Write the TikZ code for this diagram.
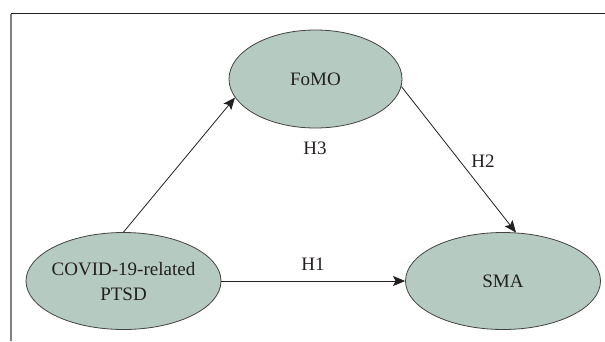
\documentclass[tikz,border=0pt]{standalone}
\usepackage{fontspec}
\setmainfont{Liberation Serif}
\usetikzlibrary{shapes.geometric,arrows.meta}
\definecolor{bubble}{RGB}{181,203,194}
\definecolor{ink}{RGB}{35,31,32}
\tikzset{
  construct/.style={ellipse, draw=ink!85, line width=0.8pt, fill=bubble, inner xsep=-30pt, inner ysep=0pt,
    text=ink, font=\fontsize{19}{25}\selectfont, align=center},
  path/.style={draw=ink, line width=0.8pt, -{Stealth[length=12pt,width=10pt,inset=2.5pt]}},
  hlabel/.style={text=ink, font=\fontsize{19}{25}\selectfont, inner sep=0pt}
}
\begin{document}
\begin{tikzpicture}[x=1pt,y=-1pt]
\useasboundingbox (0,0) rectangle (605,341);
% frame lines
\coordinate (tl) at (10.8,13.5);
\coordinate (tr) at (605,13.5);
\coordinate (bl) at (10.8,341);
\draw[ink, line width=1.3pt] (tl) -- (tr);
\draw[black!50, line width=1.6pt] (tl) -- (bl);
% constructs
\node[construct, minimum width=173pt, minimum height=98pt] (fomo) at (315.5,79) {FoMO};
\node[construct, minimum width=195pt, minimum height=97pt] (covid) at (123.5,281) {COVID-19-related\\PTSD};
\node[construct, minimum width=195pt, minimum height=97pt] (sma) at (503,281) {SMA};
% paths
\draw[path] (covid.north) -- (fomo.193);
\draw[path] (fomo.355) -- (sma.75);
\draw[path] (covid.east) -- (sma.west);
% labels
\node[hlabel] (h3) at (315,148) {H3};
\node[hlabel] (h2) at (483,161) {H2};
\node[hlabel] (h1) at (313,264) {H1};
\end{tikzpicture}
\end{document}
